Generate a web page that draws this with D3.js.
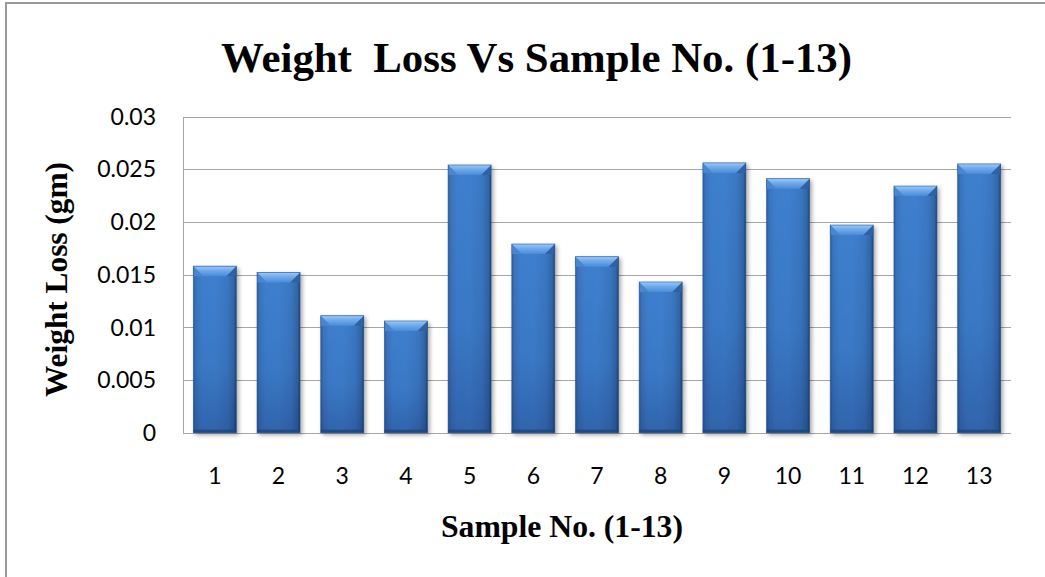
<!DOCTYPE html>
<html>
<head>
<meta charset="utf-8">
<script src="https://cdn.jsdelivr.net/npm/d3@7"></script>
<style>
  html, body { margin: 0; padding: 0; background: #fff; }
  svg { display: block; }
</style>
</head>
<body>
<svg id="chart" width="1045" height="577"></svg>
<script>
// ---- data ----
const categories = ["1","2","3","4","5","6","7","8","9","10","11","12","13"];
const weightLoss = [0.0158, 0.0152, 0.0111, 0.0106, 0.0254, 0.0179, 0.0167, 0.0143, 0.0256, 0.0241, 0.0197, 0.0234, 0.0255];
const yTicks = [0, 0.005, 0.01, 0.015, 0.02, 0.025, 0.03];
const yTickLabels = ["0", "0.005", "0.01", "0.015", "0.02", "0.025", "0.03"];
const titleText = "Weight  Loss Vs Sample No. (1-13)";
const xTitle = "Sample No. (1-13)";
const yTitle = "Weight Loss (gm)";

const svg = d3.select("#chart");
const plot = { left: 183, right: 1011, top: 116.5, bottom: 432.7 };

const x = d3.scaleBand().domain(categories).range([plot.left, plot.right])
  .paddingInner(0.325).paddingOuter(0.1625);
const y = d3.scaleLinear().domain([0, 0.03]).range([plot.bottom, plot.top]);

const defs = svg.append("defs");
const hg = defs.append("linearGradient").attr("id", "bodyH").attr("x1", 0).attr("x2", 1).attr("y1", 0).attr("y2", 0);
[[0, "#2f5f9e"], [0.06, "#3a74bd"], [0.2, "#3d7fcd"], [0.5, "#3e80cf"], [0.8, "#3a77c2"], [0.94, "#3266a8"], [1, "#1f4677"]]
  .forEach(([o, c]) => hg.append("stop").attr("offset", o).attr("stop-color", c));
const vg = defs.append("linearGradient").attr("id", "bodyV").attr("x1", 0).attr("x2", 0).attr("y1", 0).attr("y2", 1);
[[0, "#000030", 0], [0.6, "#000030", 0.06], [1, "#000030", 0.22]]
  .forEach(([o, c, a]) => vg.append("stop").attr("offset", o).attr("stop-color", c).attr("stop-opacity", a));
const tg = defs.append("linearGradient").attr("id", "topBevel").attr("x1", 0).attr("x2", 0).attr("y1", 0).attr("y2", 1);
[[0, "#9ccaf7"], [0.4, "#73acec"], [1, "#4a8bd8"]]
  .forEach(([o, c]) => tg.append("stop").attr("offset", o).attr("stop-color", c));
const flt = defs.append("filter").attr("id", "shadow").attr("x", "-20%").attr("y", "-20%").attr("width", "140%").attr("height", "140%");
flt.append("feDropShadow").attr("dx", 2).attr("dy", 2).attr("stdDeviation", 2.2)
  .attr("flood-color", "#000").attr("flood-opacity", 0.35);

// outer border
svg.append("rect").attr("x", 6).attr("y", 3).attr("width", 1200).attr("height", 800)
  .attr("fill", "none").attr("stroke", "#9a9a9a").attr("stroke-width", 2);

// gridlines
svg.append("g").selectAll("line").data(yTicks).join("line")
  .attr("x1", plot.left).attr("x2", plot.right)
  .attr("y1", d => Math.round(y(d)) + 0.5).attr("y2", d => Math.round(y(d)) + 0.5)
  .attr("stroke", "#a6a6a6").attr("stroke-width", 1);
// y axis line
svg.append("line").attr("x1", plot.left + 0.5).attr("x2", plot.left + 0.5)
  .attr("y1", Math.round(y(0.03)) + 0.5).attr("y2", Math.round(y(0)) + 0.5)
  .attr("stroke", "#a6a6a6");

// bars
const bev = 10;
const bars = svg.append("g").selectAll("g").data(weightLoss).join("g")
  .attr("filter", "url(#shadow)");
bars.each(function(v, i) {
  const g = d3.select(this);
  const x0 = x(categories[i]), w = x.bandwidth(), x1 = x0 + w;
  const y0 = y(v), y1 = y(0);
  g.append("rect").attr("x", x0).attr("y", y0).attr("width", w).attr("height", y1 - y0).attr("fill", "url(#bodyH)");
  g.append("rect").attr("x", x0).attr("y", y0).attr("width", w).attr("height", y1 - y0).attr("fill", "url(#bodyV)");
  // side triangles of top bevel
  g.append("path").attr("d", `M${x0},${y0}L${x0 + bev},${y0 + bev}L${x0},${y0 + bev}Z`).attr("fill", "#4a86cf");
  g.append("path").attr("d", `M${x1},${y0}L${x1 - bev},${y0 + bev}L${x1},${y0 + bev}Z`).attr("fill", "#2f62a3");
  // top bevel
  g.append("path").attr("d", `M${x0},${y0}L${x1},${y0}L${x1 - bev},${y0 + bev}L${x0 + bev},${y0 + bev}Z`).attr("fill", "url(#topBevel)");
  // bottom edge
  g.append("rect").attr("x", x0).attr("y", y1 - 3).attr("width", w).attr("height", 3).attr("fill", "#1f4677").attr("opacity", 0.8);
  g.append("rect").attr("x", x0).attr("y", y0).attr("width", w).attr("height", y1 - y0)
    .attr("fill", "none").attr("stroke", "#23508a").attr("stroke-width", 0.8).attr("opacity", 0.7);
});

// y tick labels
svg.append("g").selectAll("text").data(yTicks).join("text")
  .attr("x", 156).attr("y", d => y(d)).attr("dy", "0.36em")
  .attr("text-anchor", "end")
  .attr("font-family", "Lato, 'Open Sans', sans-serif").attr("font-size", 23).attr("fill", "#000")
  .text((d, i) => yTickLabels[i]);

// x tick labels
svg.append("g").selectAll("text").data(categories).join("text")
  .attr("x", d => x(d) + x.bandwidth() / 2).attr("y", 476).attr("dy", "0.36em")
  .attr("text-anchor", "middle")
  .attr("font-family", "Lato, 'Open Sans', sans-serif").attr("font-size", 23).attr("fill", "#000")
  .text(d => d);

// title
svg.append("text").attr("x", 221).attr("y", 71.5)
  .attr("font-family", "'Liberation Serif', 'Times New Roman', serif").attr("font-weight", "bold")
  .attr("font-size", 42.5).attr("textLength", 631).attr("lengthAdjust", "spacingAndGlyphs")
  .attr("xml:space", "preserve").style("white-space", "pre")
  .text(titleText);

// x axis title
svg.append("text").attr("x", 441).attr("y", 537)
  .attr("font-family", "'Liberation Serif', 'Times New Roman', serif").attr("font-weight", "bold")
  .attr("font-size", 31).attr("textLength", 242).attr("lengthAdjust", "spacingAndGlyphs")
  .text(xTitle);

// y axis title
svg.append("text").attr("transform", "translate(67,397) rotate(-90)")
  .attr("font-family", "'Liberation Serif', 'Times New Roman', serif").attr("font-weight", "bold")
  .attr("font-size", 31).attr("textLength", 235).attr("lengthAdjust", "spacingAndGlyphs")
  .text(yTitle);
</script>
</body>
</html>
